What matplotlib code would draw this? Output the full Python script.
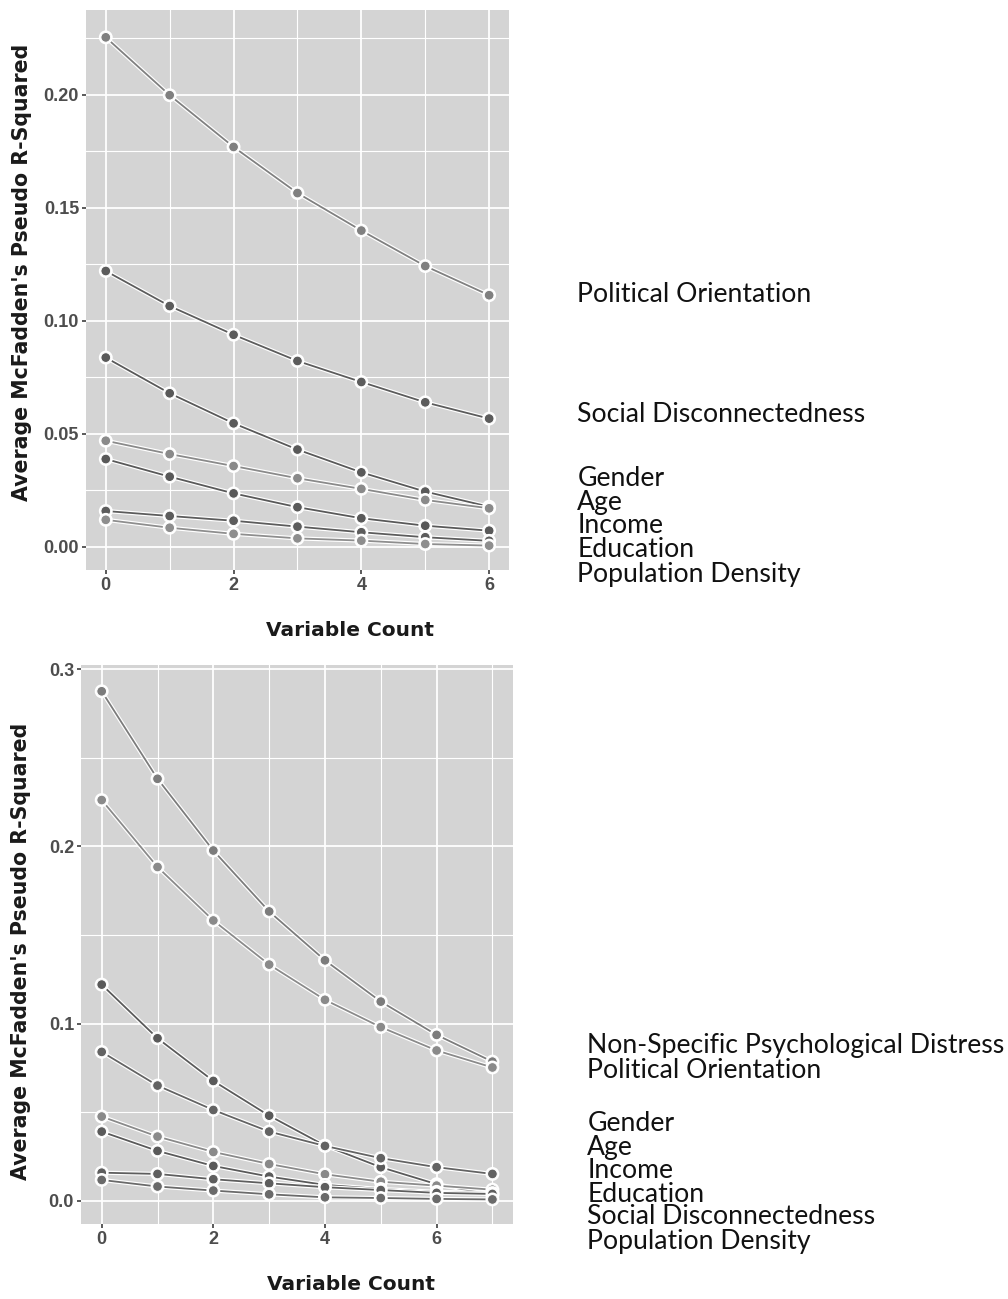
import numpy as np
import matplotlib
matplotlib.use("Agg")
import matplotlib.pyplot as plt
import matplotlib.patheffects as pe
from matplotlib.ticker import MultipleLocator

# ---- top panel data ----
top_x = [0, 1, 2, 3, 4, 5, 6]
top_names = ["Political Orientation", "Social Disconnectedness", "Gender", "Age",
             "Income", "Education", "Population Density"]
top_political = [0.2255, 0.1999, 0.1770, 0.1566, 0.1400, 0.1243, 0.1114]
top_social = [0.1221, 0.1066, 0.0939, 0.0823, 0.0730, 0.0640, 0.0568]
top_gender = [0.0838, 0.0680, 0.0547, 0.0431, 0.0330, 0.0245, 0.0178]
top_age = [0.0470, 0.0411, 0.0358, 0.0304, 0.0257, 0.0208, 0.0171]
top_income = [0.0389, 0.0311, 0.0237, 0.0176, 0.0127, 0.0094, 0.0072]
top_education = [0.0159, 0.0137, 0.0116, 0.0090, 0.0065, 0.0043, 0.0027]
top_popdens = [0.0120, 0.0085, 0.0058, 0.0038, 0.0028, 0.0013, 0.0006]
top_colors = ["#808080", "#5c5c5c", "#595959", "#8a8a8a", "#595959", "#5c5c5c", "#8e8e8e"]
top_label_y = [0.1115, 0.0588, 0.0305, 0.0195, 0.0093, -0.0013, -0.0124]

# ---- bottom panel data ----
bot_x = [0, 1, 2, 3, 4, 5, 6, 7]
bot_distress = [0.2876, 0.2382, 0.1977, 0.1633, 0.1357, 0.1124, 0.0936, 0.0785]
bot_political = [0.2262, 0.1884, 0.1582, 0.1333, 0.1134, 0.0980, 0.0848, 0.0752]
bot_social = [0.1220, 0.0917, 0.0676, 0.0480, 0.0311, 0.0189, 0.0093, 0.0032]
bot_gender = [0.0840, 0.0650, 0.0512, 0.0390, 0.0309, 0.0240, 0.0189, 0.0151]
bot_age = [0.0475, 0.0362, 0.0275, 0.0207, 0.0149, 0.0107, 0.0085, 0.0062]
bot_income = [0.0390, 0.0281, 0.0196, 0.0136, 0.0089, 0.0066, 0.0050, 0.0043]
bot_education = [0.0158, 0.0151, 0.0121, 0.0098, 0.0076, 0.0060, 0.0044, 0.0038]
bot_popdens = [0.0117, 0.0080, 0.0057, 0.0036, 0.0019, 0.0015, 0.0010, 0.0007]
bot_colors = ["#7c7c7c", "#8a8a8a", "#5a5a5a", "#636363", "#8a8a8a", "#5a5a5a", "#5e5e5e", "#6a6a6a"]
bot_label_names = ["Non-Specific Psychological Distress", "Political Orientation", "Gender",
                   "Age", "Income", "Education", "Social Disconnectedness", "Population Density"]
bot_label_y = [0.0874, 0.0733, 0.0433, 0.0303, 0.0168, 0.0034, -0.0092, -0.0232]

top_series = [top_political, top_social, top_gender, top_age, top_income, top_education, top_popdens]
bot_series = [bot_distress, bot_political, bot_social, bot_gender, bot_age, bot_income,
              bot_education, bot_popdens]

label_font = "Lato"
tick_font = ["Liberation Sans Narrow", "Liberation Sans"]

fig = plt.figure(figsize=(10.08, 12.99), dpi=100)


def style_axes(ax):
    ax.set_facecolor("#d4d4d4")
    for s in ax.spines.values():
        s.set_visible(False)
    ax.grid(which="major", color="white", linewidth=1.3)
    ax.grid(which="minor", color="white", linewidth=0.8)
    ax.set_axisbelow(True)
    ax.tick_params(which="major", length=3, width=1.3, color="#4d4d4d",
                   labelcolor="#4d4d4d", labelsize=13, pad=2)
    ax.tick_params(which="minor", length=0)
    for lab in ax.get_xticklabels() + ax.get_yticklabels():
        lab.set_fontfamily(tick_font)
        lab.set_fontweight("bold")


def draw_lines(ax, xs, series, colors):
    for ys, c in zip(series, colors):
        ax.plot(xs, ys, color=c, linewidth=1.3, marker="o", markersize=7,
                markerfacecolor=c, markeredgecolor="white", markeredgewidth=0.7,
                path_effects=[pe.Stroke(linewidth=3.0, foreground="white"), pe.Normal()],
                clip_on=False, zorder=3)


def axis_titles(ax, xlab_y, ylab_x, ylab_y):
    ax.set_xlabel("Variable Count", fontsize=14.5, fontweight="bold",
                  family="DejaVu Sans", color="#1a1a1a")
    ax.xaxis.set_label_coords(0.624, xlab_y)
    ax.set_ylabel("Average McFadden's Pseudo R-Squared", fontsize=14.8, fontweight="bold",
                  family="DejaVu Sans", color="#1a1a1a")
    ax.yaxis.set_label_coords(ylab_x, ylab_y)


# top panel
ax1 = fig.add_axes([0.0853, 0.5612, 0.4196, 0.4311])
draw_lines(ax1, top_x, top_series, top_colors)
ax1.set_xlim(-0.31, 6.31)
ax1.set_ylim(-0.0102, 0.2376)
ax1.set_xticks([0, 2, 4, 6])
ax1.xaxis.set_minor_locator(MultipleLocator(1))
ax1.set_yticks([0.0, 0.05, 0.10, 0.15, 0.20])
ax1.set_yticklabels(["0.00", "0.05", "0.10", "0.15", "0.20"])
ax1.yaxis.set_minor_locator(MultipleLocator(0.025))
style_axes(ax1)
axis_titles(ax1, -0.091, -0.128, 0.532)
for name, ly in zip(top_names, top_label_y):
    ax1.text(7.38, ly, name, fontsize=19.2, family=label_font, va="center", ha="left",
             color="#111111", clip_on=False)

# bottom panel
ax2 = fig.add_axes([0.0804, 0.0577, 0.4286, 0.4303])
draw_lines(ax2, bot_x, bot_series, bot_colors)
ax2.set_xlim(-0.37, 7.37)
ax2.set_ylim(-0.0132, 0.3024)
ax2.set_xticks([0, 2, 4, 6])
ax2.xaxis.set_minor_locator(MultipleLocator(1))
ax2.set_yticks([0.0, 0.1, 0.2, 0.3])
ax2.set_yticklabels(["0.0", "0.1", "0.2", "0.3"])
ax2.yaxis.set_minor_locator(MultipleLocator(0.05))
style_axes(ax2)
axis_titles(ax2, -0.091, -0.116, 0.488)
for name, ly in zip(bot_label_names, bot_label_y):
    ax2.text(8.70, ly, name, fontsize=19.2, family=label_font, va="center", ha="left",
             color="#111111", clip_on=False)

fig.savefig("out.png", dpi=100, facecolor="white")
